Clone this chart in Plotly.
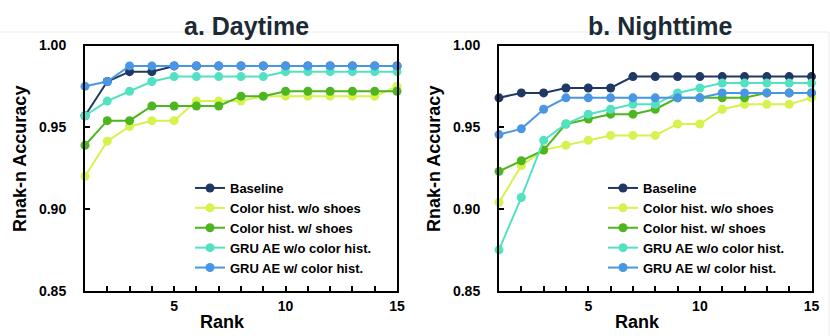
import plotly.graph_objects as go

ranks = list(range(1, 16))
series_names = ["Baseline", "Color hist. w/o shoes", "Color hist. w/ shoes",
                "GRU AE w/o color hist.", "GRU AE w/ color hist."]
colors = ["#1f3864", "#d6f24c", "#4db51f", "#52e2c2", "#4a96e6"]

# a. Daytime
day_baseline = [0.957, 0.978, 0.984, 0.984, 0.9875, 0.9875, 0.9875, 0.9875, 0.9875, 0.9875, 0.9875, 0.9875, 0.9875, 0.9875, 0.9875]
day_hist_wo = [0.920, 0.9415, 0.9505, 0.954, 0.954, 0.966, 0.966, 0.966, 0.969, 0.969, 0.969, 0.969, 0.969, 0.969, 0.975]
day_hist_w = [0.939, 0.954, 0.954, 0.963, 0.963, 0.963, 0.963, 0.969, 0.969, 0.972, 0.972, 0.972, 0.972, 0.972, 0.972]
day_gru_wo = [0.957, 0.966, 0.972, 0.978, 0.981, 0.981, 0.981, 0.981, 0.981, 0.984, 0.984, 0.984, 0.984, 0.984, 0.984]
day_gru_w = [0.975, 0.978, 0.9875, 0.9875, 0.9875, 0.9875, 0.9875, 0.9875, 0.9875, 0.9875, 0.9875, 0.9875, 0.9875, 0.9875, 0.9875]

# b. Nighttime
night_baseline = [0.968, 0.971, 0.971, 0.974, 0.974, 0.974, 0.981, 0.981, 0.981, 0.981, 0.981, 0.981, 0.981, 0.981, 0.981]
night_hist_wo = [0.904, 0.9265, 0.936, 0.939, 0.942, 0.945, 0.945, 0.945, 0.952, 0.952, 0.961, 0.964, 0.964, 0.964, 0.968]
night_hist_w = [0.923, 0.9295, 0.936, 0.952, 0.955, 0.958, 0.958, 0.961, 0.968, 0.968, 0.968, 0.968, 0.971, 0.971, 0.971]
night_gru_wo = [0.875, 0.907, 0.942, 0.952, 0.958, 0.961, 0.964, 0.964, 0.971, 0.974, 0.977, 0.977, 0.977, 0.977, 0.977]
night_gru_w = [0.9455, 0.949, 0.961, 0.968, 0.968, 0.968, 0.968, 0.968, 0.968, 0.968, 0.971, 0.971, 0.971, 0.971, 0.971]

panel_titles = ["a. Daytime", "b. Nighttime"]
y_ticks = [0.85, 0.90, 0.95, 1.00]
y_ticktext = ["0.85", "0.90", "0.95", "1.00"]
x_ticktext = ["" if r not in (5, 10, 15) else str(r) for r in ranks]

day = [day_baseline, day_hist_wo, day_hist_w, day_gru_wo, day_gru_w]
night = [night_baseline, night_hist_wo, night_hist_w, night_gru_wo, night_gru_w]

W, H = 830, 336
FONT = "Liberation Sans, Arial, Helvetica, sans-serif"

fig = go.Figure()
for panel, data in enumerate([day, night]):
    xa = "x" if panel == 0 else "x2"
    ya = "y" if panel == 0 else "y2"
    lg = "legend" if panel == 0 else "legend2"
    for name, vals, col in zip(series_names, data, colors):
        fig.add_trace(go.Scatter(
            x=ranks, y=vals, name=name, mode="lines+markers",
            line=dict(color=col, width=2), marker=dict(color=col, size=9),
            xaxis=xa, yaxis=ya, legend=lg, cliponaxis=False,
        ))

def px_x(p):
    return p / W

def px_y(p):
    return 1 - p / H

ydom = [px_y(290.7), px_y(45.5)]
xdoms = [[px_x(85), px_x(397)], [px_x(499), px_x(811.5)]]

axis_common = dict(showline=True, mirror=True, linecolor="black", linewidth=2,
                   ticks="inside", tickcolor="black", tickwidth=2, ticklen=5,
                   showgrid=False, zeroline=False, automargin=False,
                   tickfont=dict(family=FONT, size=14, color="black", weight="bold"))

fig.update_layout(
    width=W, height=H, margin=dict(l=0, r=0, t=0, b=0, autoexpand=False),
    paper_bgcolor="white", plot_bgcolor="white",
    font=dict(family=FONT, color="black"),
    xaxis=dict(domain=xdoms[0], range=[1, 15], tickvals=ranks, ticktext=x_ticktext,
               anchor="y", ticklabelstandoff=1, **axis_common),
    yaxis=dict(domain=ydom, range=[0.85, 1.0], tickvals=y_ticks, ticktext=y_ticktext,
               anchor="x", ticklabelstandoff=14, **axis_common),
    xaxis2=dict(domain=xdoms[1], range=[1, 15], tickvals=ranks, ticktext=x_ticktext,
                anchor="y2", ticklabelstandoff=1, **axis_common),
    yaxis2=dict(domain=ydom, range=[0.85, 1.0], tickvals=y_ticks, ticktext=y_ticktext,
                anchor="x2", ticklabelstandoff=14, **axis_common),
    legend=dict(x=px_x(190), y=px_y(173), xanchor="left", yanchor="top",
                bgcolor="rgba(0,0,0,0)", tracegroupgap=0, itemwidth=30,
                font=dict(family=FONT, size=13, color="black", weight="bold")),
    legend2=dict(x=px_x(603), y=px_y(173), xanchor="left", yanchor="top",
                 bgcolor="rgba(0,0,0,0)", tracegroupgap=0, itemwidth=30,
                 font=dict(family=FONT, size=13, color="black", weight="bold")),
    showlegend=True,
)

annotations = []
for i, t in enumerate(panel_titles):
    cx = (xdoms[i][0] + xdoms[i][1]) / 2 + (5 / W)
    annotations.append(dict(text=t, x=cx, y=px_y(26), xref="paper", yref="paper",
                            showarrow=False, xanchor="center", yanchor="middle",
                            font=dict(family=FONT, size=25, color="#1c2b33", weight="bold")))
    # y title
    annotations.append(dict(text="Rnak-n Accuracy", x=xdoms[i][0] - 65 / W, y=px_y(159),
                            xref="paper", yref="paper", showarrow=False, textangle=-90,
                            xanchor="center", yanchor="middle",
                            font=dict(family=FONT, size=18, color="black", weight="bold")))
    # x title
    annotations.append(dict(text="Rank", x=(xdoms[i][0] + xdoms[i][1]) / 2 - 18 / W,
                            y=px_y(322), xref="paper", yref="paper", showarrow=False,
                            xanchor="center", yanchor="middle",
                            font=dict(family=FONT, size=18, color="black", weight="bold")))
fig.update_layout(annotations=annotations)

fig.add_shape(type="rect", xref="paper", yref="paper", x0=-0.05, x1=829 / W,
              y0=-0.1, y1=px_y(32), line=dict(color="#ececec", width=1),
              fillcolor="rgba(0,0,0,0)", layer="below")

fig.write_html("out.html", config={"displayModeBar": False},
               post_script="document.body.style.margin='0';document.body.style.overflow='hidden';")
